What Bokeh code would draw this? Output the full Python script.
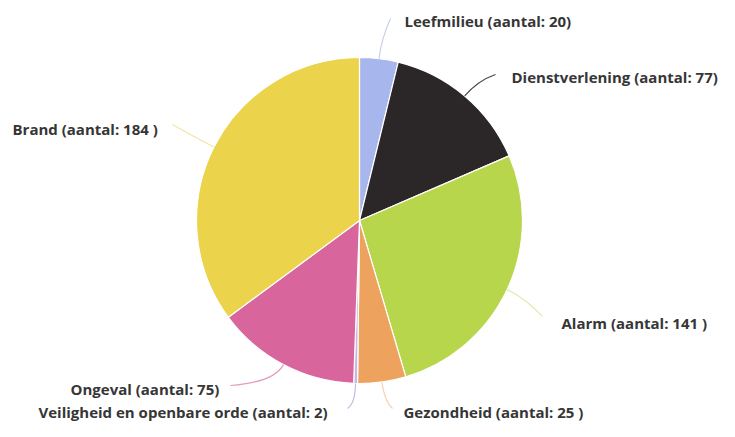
import math
from bokeh.plotting import figure
from bokeh.models import ColumnDataSource, Range1d
from bokeh.core.properties import value
from bokeh.embed import file_html
from bokeh.resources import INLINE

categories = ["Leefmilieu", "Dienstverlening", "Alarm", "Gezondheid",
              "Veiligheid en openbare orde", "Ongeval", "Brand"]
counts = [20, 77, 141, 25, 2, 75, 184]
label_texts = ["Leefmilieu (aantal: 20)", "Dienstverlening (aantal: 77)",
               "Alarm (aantal: 141 )", "Gezondheid (aantal: 25 )",
               "Veiligheid en openbare orde (aantal: 2)", "Ongeval (aantal: 75)",
               "Brand (aantal: 184 )"]
colors = ["#a8b6ee", "#2b2728", "#b7d64c", "#eda25e", "#c9b8e6", "#d8659b", "#ebd34b"]
line_colors = ["#c8d0ee", "#4a4446", "#dfeeb0", "#f3d6b4", "#c9b8e6", "#e39abf", "#f0e6a8"]

# layout in pixels (y measured from top)
W, H = 719, 421
CX, CY_TOP, R = 359, 220, 163
label_pos = [(404, 20), (511, 76), (561, 322), (403, 411), (38, 411), (70, 388), (12, 128)]
line_end = [(390, 18), (495, 74), (542, 316), (392, 408), (347, 408), (230, 385), (172, 124)]

CY = H - CY_TOP
total = sum(counts)
starts, ends, mids = [], [], []
acc = 0
for c in counts:
    a0 = acc / total * 2 * math.pi
    acc += c
    a1 = acc / total * 2 * math.pi
    starts.append(math.pi / 2 - a0)
    ends.append(math.pi / 2 - a1)
    mids.append(math.pi / 2 - (a0 + a1) / 2)

p = figure(width=W, height=H, output_backend="svg", toolbar_location=None,
           x_range=Range1d(0, W), y_range=Range1d(0, H), min_border=0)
p.axis.visible = False
p.grid.visible = False
p.outline_line_color = None
p.background_fill_color = "white"

src = ColumnDataSource(dict(x=[CX] * len(counts), y=[CY] * len(counts),
                            start=starts, end=ends, color=colors, cat=categories))
p.wedge(x="x", y="y", radius=R, start_angle="start", end_angle="end",
        direction="clock", fill_color="color", line_color="white", line_width=1.2,
        source=src)

# connectors
x0s, y0s, cxs, cys, x1s, y1s = [], [], [], [], [], []
for m, (ex, ey) in zip(mids, line_end):
    x0s.append(CX + R * math.cos(m)); y0s.append(CY + R * math.sin(m))
    cxs.append(CX + (R + 20) * math.cos(m)); cys.append(CY + (R + 20) * math.sin(m))
    x1s.append(ex); y1s.append(H - ey)
p.quadratic(x0=x0s, y0=y0s, x1=x1s, y1=y1s, cx=cxs, cy=cys,
            line_color=line_colors, line_width=1.2)

p.text(x=[lp[0] for lp in label_pos], y=[H - lp[1] for lp in label_pos],
       text=label_texts,
       text_font=value("Open Sans"), text_font_style="bold", text_font_size="15px",
       text_color="#363636", text_baseline="middle", text_align="left")

open("out.html", "w").write(file_html(p, INLINE))
